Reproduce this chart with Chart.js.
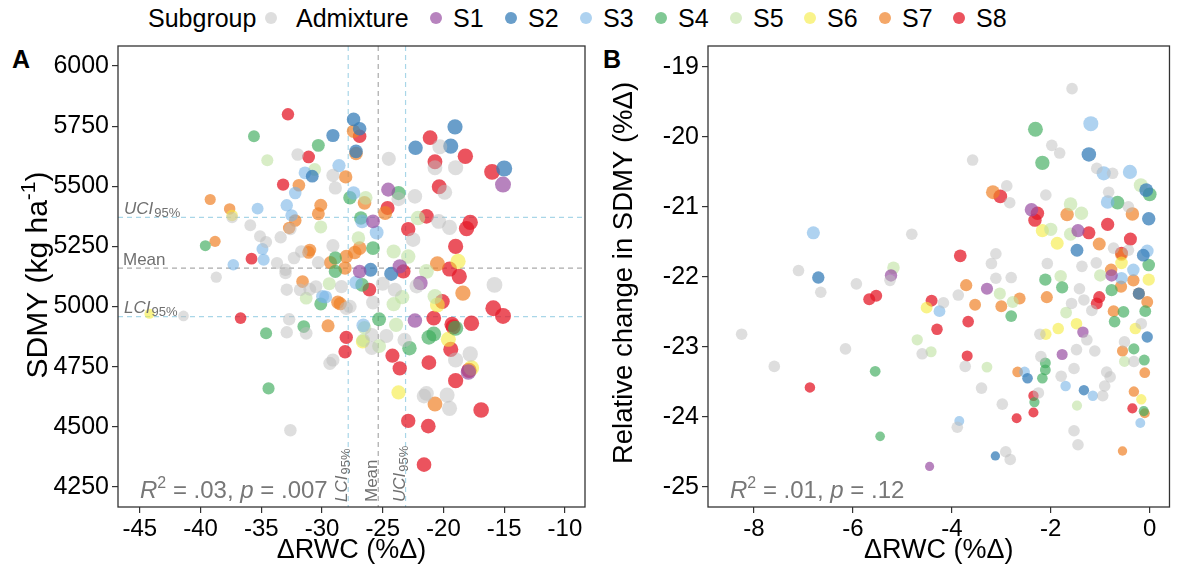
<!DOCTYPE html>
<html><head><meta charset="utf-8">
<script src="https://cdn.jsdelivr.net/npm/chart.js@4.4.1/dist/chart.umd.min.js"></script>
<style>
body{margin:0;background:#fff;width:1177px;height:571px;overflow:hidden;position:relative;font-family:"Liberation Sans",Arial,sans-serif;}
canvas{position:absolute;top:0;}
#cA{left:0;}
#cB{left:595px;}
.lab{position:absolute;font-weight:bold;font-size:25px;line-height:30px;}
.lg{position:absolute;top:4px;font-size:25px;line-height:28px;white-space:nowrap;color:#000;}
.dot{position:absolute;top:12px;width:12px;height:12px;border-radius:50%;}
</style></head><body>
<div class="lab" style="left:12px;top:44px;">A</div>
<div class="lab" style="left:603px;top:44px;">B</div>
<div id="legend"></div>
<canvas id="cA" width="600" height="571"></canvas>
<canvas id="cB" width="582" height="571"></canvas>
<script>
// ---------- data ----------
const groups = ['Admixture','S1','S2','S3','S4','S5','S6','S7','S8'];

// Panel A: [ΔRWC (%Δ), SDMY (kg/ha)]
const A_Ad = [[-32.0,5632],[-29.1,5545],[-28.9,5493],[-37.4,5370],[-32.6,5322],[-35.9,5338],[-35.1,5292],[-34.6,5268],[-33.4,5288],[-33.7,5181],[-33.0,5153],[-32.3,5202],[-31.7,5229],[-29.1,5253],[-30.3,5183],[-38.7,5122],[-33.0,5139],[-32.9,5070],[-31.8,5070],[-31.0,5072],[-30.5,5083],[-28.0,4993],[-41.4,4961],[-32.7,4947],[-32.9,4893],[-31.3,4889],[-29.35,4764],[-29.1,4778],[-32.6,4486],[-24.5,5614],[-22.35,5458],[-23.7,5447],[-20.3,5664],[-19.0,5577],[-20.7,5577],[-19.9,5475],[-20.4,5354],[-19.5,5329],[-22.5,5278],[-25.9,4827],[-24.7,4878],[-25.9,4882],[-23.2,4861],[-25.8,5017],[-21.4,4639],[-21.6,4628],[-19.7,4632],[-19.5,4577],[-17.8,4803],[-19.0,4778],[-15.8,5090],[-28.4,5083],[-27.7,5000],[-25.0,5095],[-24.0,5070],[-22.2,5085]];
const A_S1 = [[-24.55,5486],[-25.8,5354],[-22.35,4942],[-21.9,5098],[-26.9,5146],[-23.6,5167],[-15.1,5507],[-17.95,4728]];
const A_S2 = [[-29.1,5711],[-27.4,5778],[-26.9,5739],[-30.8,5542],[-27.2,5645],[-22.3,5660],[-19.05,5747],[-19.4,5667],[-15.0,5574],[-24.3,5136],[-26.0,5153]];
const A_S3 = [[-28.6,5586],[-31.4,5556],[-32.2,5472],[-35.3,5407],[-32.9,5421],[-32.5,5379],[-34.9,5239],[-34.8,5195],[-37.3,5174],[-29.95,5042],[-29.7,5040],[-26.6,4922],[-27.4,5472],[-26.7,5354],[-25.5,5308],[-27.2,5100]];
const A_S4 = [[-35.6,5708],[-30.3,5670],[-39.6,5253],[-28.9,5202],[-28.9,5146],[-30.1,5011],[-34.6,4889],[-31.5,4917],[-34.4,4660],[-25.3,4947],[-22.8,4827],[-21.2,4872],[-20.8,4886],[-19.0,4910],[-27.7,5452],[-23.7,5472],[-26.8,5368],[-25.8,5243],[-26.7,5090]];
const A_S5 = [[-34.5,5608],[-30.6,5570],[-30.1,5331],[-29.4,5095],[-31.3,5035],[-26.5,4912],[-26.6,4860],[-25.3,4836],[-23.9,4924],[-20.7,5042],[-23.4,5039],[-24.1,5010],[-21.4,5146],[-26.4,5452],[-22.1,5368],[-27.0,5285],[-24.1,5229],[-22.9,5208]];
const A_S6 = [[-44.2,4970],[-37.4,5379],[-26.65,4854],[-23.7,4643],[-17.7,4745],[-19.6,4864],[-20.5,5007],[-18.8,5188]];
const A_S7 = [[-27.4,5729],[-28.05,5539],[-31.9,5504],[-39.2,5445],[-37.6,5406],[-32.2,5358],[-32.7,5327],[-30.1,5421],[-30.3,5386],[-38.8,5271],[-31.0,5235],[-31.1,5225],[-29.3,5183],[-28.0,5208],[-31.6,5104],[-28.7,5018],[-28.5,5012],[-29.5,4920],[-20.7,4595],[-18.4,5056],[-20.5,5178],[-27.2,5636],[-26.5,5431],[-24.8,5389],[-26.9,5243],[-27.3,5225],[-28.1,5160]];
const A_S8 = [[-32.8,5799],[-31.1,5622],[-26.9,5708],[-33.2,5507],[-35.8,5199],[-36.7,4952],[-28.0,4872],[-28.1,4812],[-26.1,5070],[-24.2,4796],[-23.6,4743],[-22.9,4525],[-21.25,4503],[-21.6,4343],[-21.2,4767],[-19.0,4692],[-16.9,4570],[-17.9,4735],[-19.4,4822],[-19.2,4916],[-19.3,4926],[-17.7,4931],[-20.8,4952],[-15.9,4993],[-15.1,4961],[-20.1,5021],[-19.5,5156],[-18.7,5125],[-23.3,5146],[-24.6,5410],[-21.4,5375],[-22.9,5322],[-18.1,5324],[-17.8,5350],[-19.0,5250],[-21.1,5702],[-18.2,5625],[-20.7,5602],[-20.35,5498],[-16.0,5560]];

// Panel B: [ΔRWC (%Δ), relative change in SDMY (%Δ)]
const B_Ad = [[-7.1,-21.91],[-6.65,-22.22],[-5.93,-22.1],[-5.25,-22.05],[-8.25,-22.82],[-7.59,-23.28],[-6.15,-23.03],[-4.81,-21.39],[-1.57,-19.31],[-1.98,-20.12],[-1.82,-20.23],[-3.58,-20.33],[-1.07,-20.45],[-0.75,-20.52],[-2.89,-20.7],[-2.83,-20.94],[-2.1,-20.83],[-0.83,-20.79],[-0.43,-21.0],[-0.73,-21.59],[-0.43,-21.62],[-3.11,-21.67],[-3.2,-21.81],[-2.07,-21.81],[-1.37,-21.85],[-1.08,-21.8],[-3.87,-22.26],[-3.11,-22.02],[-2.8,-22.01],[-4.17,-22.37],[-4.6,-23.1],[-3.73,-23.28],[-3.4,-23.59],[-2.98,-23.82],[-3.89,-24.15],[-2.91,-24.5],[-2.82,-24.61],[-2.25,-23.66],[-2.2,-23.14],[-1.79,-23.42],[-1.53,-23.31],[-1.48,-23.04],[-1.53,-24.2],[-1.45,-24.4],[-0.95,-23.7],[-0.91,-23.56],[-0.8,-23.43],[-0.87,-23.36],[-1.42,-22.17],[-1.58,-22.38],[-1.33,-22.33],[-1.17,-22.48],[-0.17,-22.67],[-0.51,-22.93],[-0.32,-23.21],[-2.22,-22.82],[-1.27,-22.9],[-1.11,-23.06]];
const B_S1 = [[-5.23,-21.98],[-2.39,-21.04],[-1.45,-21.34],[-3.29,-22.17],[-0.77,-21.98],[-1.77,-23.11],[-1.35,-22.79],[-4.45,-24.71]];
const B_S2 = [[-6.7,-22.01],[-1.23,-20.25],[-0.07,-20.76],[-0.02,-21.17],[-1.47,-21.62],[-0.13,-21.69],[-0.22,-22.24],[-0.05,-22.86],[-2.47,-23.45],[-1.33,-23.62],[-3.12,-24.56]];
const B_S3 = [[-6.8,-21.37],[-1.19,-19.81],[-0.93,-20.52],[-0.4,-20.5],[-0.85,-20.93],[-0.05,-21.63],[-0.33,-21.9],[-0.57,-22.02],[-4.25,-22.49],[-2.53,-23.36],[-1.7,-23.56],[-1.15,-23.7],[-3.85,-24.06],[-0.19,-24.09]];
const B_S4 = [[-2.31,-19.89],[-2.17,-20.37],[0.0,-20.82],[-0.65,-20.94],[-0.02,-21.83],[-2.11,-22.04],[-1.77,-22.15],[-0.77,-22.19],[-0.09,-22.49],[-0.53,-22.5],[-0.71,-22.64],[-0.32,-23.03],[-0.11,-23.19],[-2.8,-22.56],[-2.11,-23.23],[-2.11,-23.33],[-2.17,-23.45],[-2.33,-23.79],[-0.12,-23.92],[-5.55,-23.35],[-5.45,-24.28]];
const B_S5 = [[-0.18,-20.69],[-1.6,-20.96],[-1.38,-21.09],[-2.0,-21.32],[-1.6,-21.39],[-5.18,-21.87],[-4.7,-22.9],[-4.42,-23.07],[-3.03,-22.24],[-2.77,-22.36],[-3.29,-23.29],[-1.69,-22.51],[-1.8,-21.99],[-1.0,-21.98],[-1.47,-23.84],[-0.51,-23.21]];
const B_S6 = [[-2.17,-21.34],[-1.87,-21.52],[-0.57,-21.8],[-4.51,-22.44],[-1.48,-22.67],[-1.85,-22.74],[-2.1,-22.82],[-0.29,-22.74],[-0.17,-23.75],[-0.02,-22.04]];
const B_S7 = [[-3.17,-20.79],[-0.35,-21.1],[-1.67,-21.11],[-1.02,-21.53],[-0.57,-21.68],[-0.78,-21.9],[-0.33,-22.05],[-0.58,-22.14],[-0.22,-22.24],[-0.05,-22.36],[-0.73,-22.49],[-0.55,-23.06],[-0.1,-23.37],[-0.32,-23.64],[-0.1,-23.95],[-3.71,-22.12],[-2.63,-22.31],[-3.0,-22.42],[-3.53,-22.4],[-2.08,-22.29],[-2.67,-23.36],[-0.55,-24.49]];
const B_S8 = [[-5.67,-22.32],[-5.53,-22.27],[-6.87,-23.58],[-3.02,-20.85],[-2.27,-21.09],[-2.32,-21.19],[-1.23,-21.37],[-0.85,-21.25],[-0.39,-21.46],[-0.57,-21.66],[-3.83,-21.70],[-4.41,-22.34],[-4.3,-22.75],[-3.67,-22.64],[-3.69,-23.13],[-1.02,-22.29],[-1.07,-22.38],[-2.35,-23.7],[-2.35,-23.94],[-2.69,-24.02],[-0.35,-23.88]];

// axes ticks and ranges
const A_xTicks = [-45,-40,-35,-30,-25,-20,-15,-10];
const A_yTicks = [4250,4500,4750,5000,5250,5500,5750,6000];
const A_xRange = [-46.79,-8.35];
const A_yRange = [4167,6083];
const B_xTicks = [-8,-6,-4,-2,0];
const B_yTicks = [-25,-24,-23,-22,-21,-20,-19];
const B_xRange = [-8.93,0.4];
const B_yRange = [-25.29,-18.70];

// reference lines in panel A (LCI95%, Mean, UCI95%)
const A_refX = [-27.84,-25.37,-23.12];
const A_refY = [4958,5160,5371];
const A_stats = ['.03','.007'];
const B_stats = ['.01','.12'];

// ---------- styles ----------
const FAM = '"Liberation Sans", Arial, sans-serif';
const colors = ['rgba(190,190,190,0.5)','rgba(152,78,163,0.7)','rgba(55,126,184,0.75)','rgba(120,180,230,0.6)',
  'rgba(60,170,90,0.65)','rgba(190,225,160,0.6)','rgba(245,235,60,0.6)','rgba(240,130,40,0.7)','rgba(228,26,40,0.75)'];

// legend (HTML text)
const legendX = [271,436,511,586,661,736,810,885,959];
(function(){
  const lg = document.getElementById('legend');
  let h = '<div class="lg" style="left:148px">Subgroup</div>';
  groups.forEach((g,i)=>{
    h += `<div class="dot" style="left:${legendX[i]-6}px;background:${colors[i]}"></div>`;
    h += `<div class="lg" style="left:${legendX[i]+(i===0?25:17)}px">${g}</div>`;
  });
  lg.innerHTML = h;
})();

function subText(ctx, x, y, main, sub, size, italic){
  ctx.font = `${italic?'italic ':''}${size}px ${FAM}`;
  ctx.fillText(main, x, y);
  const w = ctx.measureText(main).width;
  ctx.font = `${Math.round(size*0.75)}px ${FAM}`;
  ctx.fillText(sub, x + w + 1, y + 3);
}
function statText(ctx, x, y, r2, p){
  const s = 24;
  let cx = x;
  const part = (t, f, dy) => { ctx.font = f; ctx.fillText(t, cx, y + (dy||0)); cx += ctx.measureText(t).width; };
  part('R', `italic ${s}px ${FAM}`);
  part('2', `${Math.round(s*0.68)}px ${FAM}`, -10);
  part(' = ' + r2 + ', ', `${s}px ${FAM}`);
  part('p', `italic ${s}px ${FAM}`);
  part(' = ' + p, `${s}px ${FAM}`);
}
// rotated y-axis title made of [text, size, raise] parts, centred at (cx, cy)
function yTitle(ctx, parts, cx, cy){
  ctx.save();
  let total = 0;
  parts.forEach(p => { ctx.font = `${p[1]}px ${FAM}`; total += ctx.measureText(p[0]).width; });
  ctx.translate(cx, cy); ctx.rotate(-Math.PI/2);
  ctx.fillStyle = '#000'; ctx.textBaseline = 'alphabetic'; ctx.textAlign = 'left';
  const base = parts[0][1] * 0.35;
  let x = -total/2;
  parts.forEach(p => { ctx.font = `${p[1]}px ${FAM}`; ctx.fillText(p[0], x, base - (p[2]||0)); x += ctx.measureText(p[0]).width; });
  ctx.restore();
}

const decor = {
  id: 'decor',
  beforeDatasetsDraw(chart, args, o){
    const {ctx, chartArea: a, scales: {x, y}} = chart;
    if (!o.refX) return;
    ctx.save();
    ctx.lineWidth = 1.2;
    ctx.setLineDash([5,4]);
    const cols = ['#a9d6e8','#aaaaaa','#a9d6e8'];
    o.refY.forEach((v,i)=>{ const py = y.getPixelForValue(v); ctx.strokeStyle = cols[i];
      ctx.beginPath(); ctx.moveTo(a.left, py); ctx.lineTo(a.right, py); ctx.stroke(); });
    o.refX.forEach((v,i)=>{ const px = x.getPixelForValue(v); ctx.strokeStyle = cols[i];
      ctx.beginPath(); ctx.moveTo(px, a.top); ctx.lineTo(px, a.bottom); ctx.stroke(); });
    ctx.restore();
  },
  afterDraw(chart, args, o){
    const {ctx, chartArea: a, scales: {x, y}} = chart;
    ctx.save();
    ctx.strokeStyle = '#333'; ctx.lineWidth = 1.3; ctx.setLineDash([]);
    ctx.strokeRect(a.left, a.top, a.right - a.left, a.bottom - a.top);
    ctx.fillStyle = '#707070';
    ctx.textBaseline = 'alphabetic';
    if (o.refX) {
      const yU = y.getPixelForValue(o.refY[2]), yM = y.getPixelForValue(o.refY[1]), yL = y.getPixelForValue(o.refY[0]);
      subText(ctx, a.left + 6, yU - 3, 'UCI', '95%', 17, true);
      ctx.font = `17px ${FAM}`; ctx.fillText('Mean', a.left + 5, yM - 3);
      subText(ctx, a.left + 6, yL - 4, 'LCI', '95%', 17, true);
      const labs = [['LCI','95%',true],['Mean','',false],['UCI','95%',true]];
      o.refX.forEach((v,i)=>{
        const px = x.getPixelForValue(v);
        ctx.save(); ctx.translate(px - 1, a.bottom - 5); ctx.rotate(-Math.PI/2);
        if (labs[i][1]) subText(ctx, 0, 0, labs[i][0], labs[i][1], 17, true);
        else { ctx.font = `17px ${FAM}`; ctx.fillText(labs[i][0], 0, 0); }
        ctx.restore();
      });
    }
    ctx.fillStyle = '#777';
    statText(ctx, a.left + 22, a.bottom - 9, o.stats[0], o.stats[1]);
    ctx.restore();
    yTitle(ctx, o.yTitle, o.yTitlePos[0], o.yTitlePos[1]);
  }
};

function makeChart(id, sets, xR, yR, xT, yT, xTitle, yW, padRight, radiusFn, decorOpts){
  const datasets = sets.map((arr,i)=>({
    label: groups[i],
    data: arr.map(p=>({x:p[0], y:p[1]})),
    backgroundColor: colors[i],
    borderWidth: 0,
    pointRadius: c => radiusFn(c.raw, i),
    pointHoverRadius: c => radiusFn(c.raw, i)
  }));
  const grid = {display:true, drawOnChartArea:false, drawTicks:true, tickLength:6, color:'#333', lineWidth:1.2};
  return new Chart(document.getElementById(id), {
    type: 'scatter',
    data: {datasets},
    plugins: [decor],
    options: {
      responsive: false, animation: false, events: [],
      layout: {padding: {left:0, top:46, right:padRight, bottom:0}},
      plugins: {legend:{display:false}, tooltip:{enabled:false}, decor: decorOpts},
      scales: {
        x: {type:'linear', min:xR[0], max:xR[1],
            afterBuildTicks: s => { s.ticks = xT.map(v=>({value:v})); },
            afterFit: s => { s.height = 64; },
            grid, border:{display:false},
            ticks:{color:'#000', font:{size:24, family:FAM}, padding:2, maxRotation:0, autoSkip:false, callback: v => String(v)},
            title:{display:true, text:xTitle, color:'#000', font:{size:27, family:FAM}, padding:{top:0, bottom:4}}},
        y: {type:'linear', min:yR[0], max:yR[1],
            afterBuildTicks: s => { s.ticks = yT.map(v=>({value:v})); },
            afterFit: s => { s.width = yW; },
            grid, border:{display:false},
            ticks:{color:'#000', font:{size:25, family:FAM}, padding:3, autoSkip:false, callback: v => String(v)},
            title:{display:false}}
      }
    }
  });
}

makeChart('cA', [A_Ad,A_S1,A_S2,A_S3,A_S4,A_S5,A_S6,A_S7,A_S8], A_xRange, A_yRange, A_xTicks, A_yTicks,
  'ΔRWC (%Δ)', 118, 15,
  p => 5 + (p.x + 45) * 0.1,
  {refX:A_refX, refY:A_refY, stats:A_stats,
   yTitle:[['SDMY (kg ha',30],['-1',21,12],[')',30]], yTitlePos:[36,275]});

makeChart('cB', [B_Ad,B_S1,B_S2,B_S3,B_S4,B_S5,B_S6,B_S7,B_S8], B_xRange, B_yRange, B_xTicks, B_yTicks,
  'ΔRWC (%Δ)', 113, 2,
  (p, g) => g === 0 ? 5.8 : 4.4 + (p.y + 25) * 0.6,
  {stats:B_stats, yTitle:[['Relative change in SDMY (%Δ)',27.5]], yTitlePos:[27,273]});
</script>
</body></html>
